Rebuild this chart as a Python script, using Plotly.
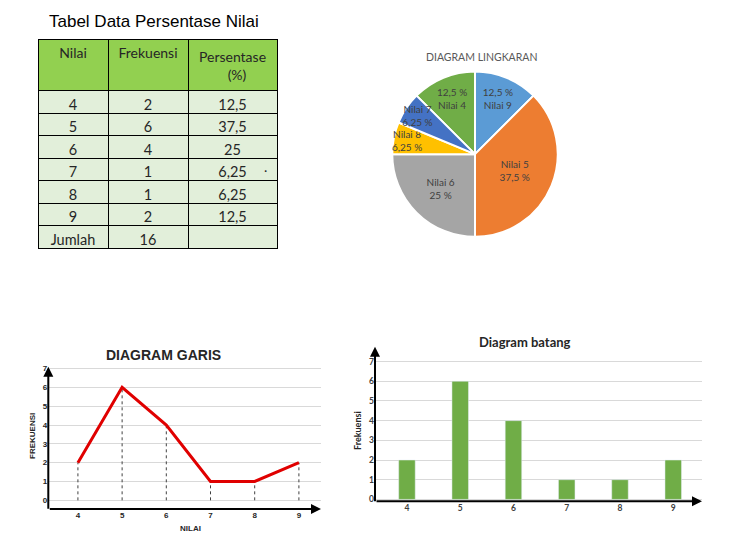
import plotly.graph_objects as go

# the page body keeps its default 8px margin, so the figure is drawn 8px in
OFF = 8
W, H = 733 - 2 * OFF, 551 - 2 * OFF

# data
nilai = [4, 5, 6, 7, 8, 9]
frekuensi = [2, 6, 4, 1, 1, 2]
persen = ["12,5", "37,5", "25", "6,25", "6,25", "12,5"]
jumlah = 16

# pie slices clockwise, "Nilai 4" starting at 10:30; 7 last so its label sits on top
pie_order = [4, 9, 5, 6, 8, 7]
pie_colors = {4: "#70AD47", 5: "#ED7D31", 6: "#A5A5A5", 7: "#4472C4", 8: "#FFC000", 9: "#5B9BD5"}


def px_x(x):
    return (x - OFF) / W


def px_y(y):
    return 1 - (y - OFF) / H


fig = go.Figure()

# table
nb = "\u00a0" * 8
fig.add_trace(go.Table(
    domain=dict(x=[px_x(38), px_x(277)], y=[px_y(250), px_y(38)]),
    columnwidth=[70, 80, 89],
    header=dict(
        values=["Nilai", "Frekuensi", "Persentase<br>" + nb + "(%)"],
        fill_color="#92D050",
        line=dict(color="black", width=1),
        font=dict(family="Lato", size=14, color="#262626"),
        height=41, align="center",
    ),
    cells=dict(
        values=[[str(n) for n in nilai] + ["Jumlah"],
                [str(f) for f in frekuensi] + [str(jumlah)],
                persen + [""]],
        fill_color="#E2EFDA",
        line=dict(color="black", width=1),
        font=dict(family="Lato", size=14.5, color="#262626"),
        height=22.5, align="center",
    ),
))

# pie
idx = [nilai.index(n) for n in pie_order]
templates = ["%{text}<br>%{label}" if n in (4, 9) else "%{label}<br>%{text}" for n in pie_order]
fig.add_trace(go.Pie(
    labels=[f"Nilai {n}" for n in pie_order],
    values=[frekuensi[i] for i in idx],
    text=[persen[i] + " %" for i in idx],
    sort=False, direction="clockwise", rotation=-45,
    marker=dict(colors=[pie_colors[n] for n in pie_order], line=dict(color="white", width=2)),
    texttemplate=templates,
    textposition="inside", insidetextorientation="horizontal",
    textfont=dict(family="Lato", size=10, color="#404040"),
    showlegend=False, hoverinfo="label+percent",
    domain=dict(x=[px_x(392), px_x(558)], y=[px_y(237), px_y(70)]),
))

# line chart
drop_x, drop_y = [], []
for n, f in zip(nilai, frekuensi):
    drop_x += [n, n, None]
    drop_y += [0, f, None]
fig.add_trace(go.Scatter(x=drop_x, y=drop_y, mode="lines", xaxis="x", yaxis="y",
                         line=dict(color="#404040", width=1, dash="dot"), showlegend=False))
fig.add_trace(go.Scatter(x=nilai, y=frekuensi, mode="lines", xaxis="x", yaxis="y",
                         line=dict(color="#E00000", width=3), showlegend=False))

# bar chart
fig.add_trace(go.Bar(x=nilai, y=frekuensi, width=0.31, marker_color="#70AD47",
                     xaxis="x2", yaxis="y2", showlegend=False))

tick_line = dict(family="Liberation Sans", size=8, color="#262626", weight="bold")
tick_bar = dict(family="Lato", size=8.5, color="#404040", weight="bold")
grid = "#D9D9D9"

fig.update_layout(
    width=W, height=H,
    margin=dict(l=0, r=0, t=0, b=0),
    paper_bgcolor="white", plot_bgcolor="white",
    uniformtext=dict(minsize=10, mode="show"),
    xaxis=dict(domain=[px_x(48.3), px_x(321)], range=[3.33, 9.5], tickvals=nilai,
               showgrid=False, zeroline=False, showline=False, ticks="",
               tickfont=tick_line, anchor="y", fixedrange=True),
    yaxis=dict(domain=[px_y(511.7), px_y(368)], range=[-0.46, 7.1], tickvals=list(range(8)),
               showgrid=True, gridcolor=grid, zeroline=False, showline=False, ticks="",
               tickfont=tick_line, anchor="x", fixedrange=True),
    xaxis2=dict(domain=[px_x(375), px_x(702)], range=[3.4, 9.54], tickvals=nilai,
                showgrid=False, zeroline=False, showline=False, ticks="",
                tickfont=tick_bar, anchor="y2", fixedrange=True),
    yaxis2=dict(domain=[px_y(504), px_y(348)], range=[-0.1, 7.75], tickvals=list(range(8)),
                showgrid=True, gridcolor=grid, zeroline=False, showline=False, ticks="",
                tickfont=tick_bar, anchor="x2", fixedrange=True),
)

annotations = [
    dict(text="Tabel Data Persentase Nilai", x=px_x(47), y=px_y(20), xanchor="left", yanchor="middle",
         font=dict(family="Liberation Sans", size=17, color="black")),
    dict(text=".", x=px_x(265), y=px_y(166), xanchor="center", yanchor="middle",
         font=dict(family="Lato", size=14, color="#262626")),
    dict(text="DIAGRAM LINGKARAN", x=px_x(482), y=px_y(55), xanchor="center", yanchor="middle",
         font=dict(family="Lato", size=10.5, color="#595959")),
    dict(text="DIAGRAM GARIS", x=px_x(163), y=px_y(356), xanchor="center", yanchor="middle",
         font=dict(family="Liberation Sans", size=14, color="#262626", weight="bold")),
    dict(text="FREKUENSI", x=px_x(33), y=px_y(438), xanchor="center", yanchor="middle", textangle=-90,
         font=dict(family="Liberation Sans", size=8, color="#262626", weight="bold")),
    dict(text="NILAI", x=px_x(190), y=px_y(531), xanchor="center", yanchor="middle",
         font=dict(family="Liberation Sans", size=8, color="#262626", weight="bold")),
    dict(text="Diagram batang", x=px_x(525), y=px_y(343), xanchor="center", yanchor="middle",
         font=dict(family="Lato", size=13, color="#262626", weight="bold")),
    dict(text="Frekuensi", x=px_x(357), y=px_y(433), xanchor="center", yanchor="middle", textangle=-90,
         font=dict(family="Lato", size=9, color="#262626", weight="bold")),
]
for a in annotations:
    a.update(xref="paper", yref="paper", showarrow=False)

# axis lines with arrow heads
for xa, ya, dom_x, dom_y in [("x", "y", (48.3, 321), (511.7, 368)),
                             ("x2", "y2", (375, 702), (504, 348))]:
    w = dom_x[1] - dom_x[0]
    h = dom_y[0] - dom_y[1]
    annotations.append(dict(x=0, y=1, xref=f"{xa} domain", yref=f"{ya} domain", text="",
                            showarrow=True, ax=0, ay=h, axref="pixel", ayref="pixel",
                            arrowhead=2, arrowsize=1, arrowwidth=2, arrowcolor="black"))
    annotations.append(dict(x=1, y=0, xref=f"{xa} domain", yref=f"{ya} domain", text="",
                            showarrow=True, ax=-w, ay=0, axref="pixel", ayref="pixel",
                            arrowhead=2, arrowsize=1, arrowwidth=2, arrowcolor="black"))

fig.update_layout(annotations=annotations)

fig.write_html("out.html")
